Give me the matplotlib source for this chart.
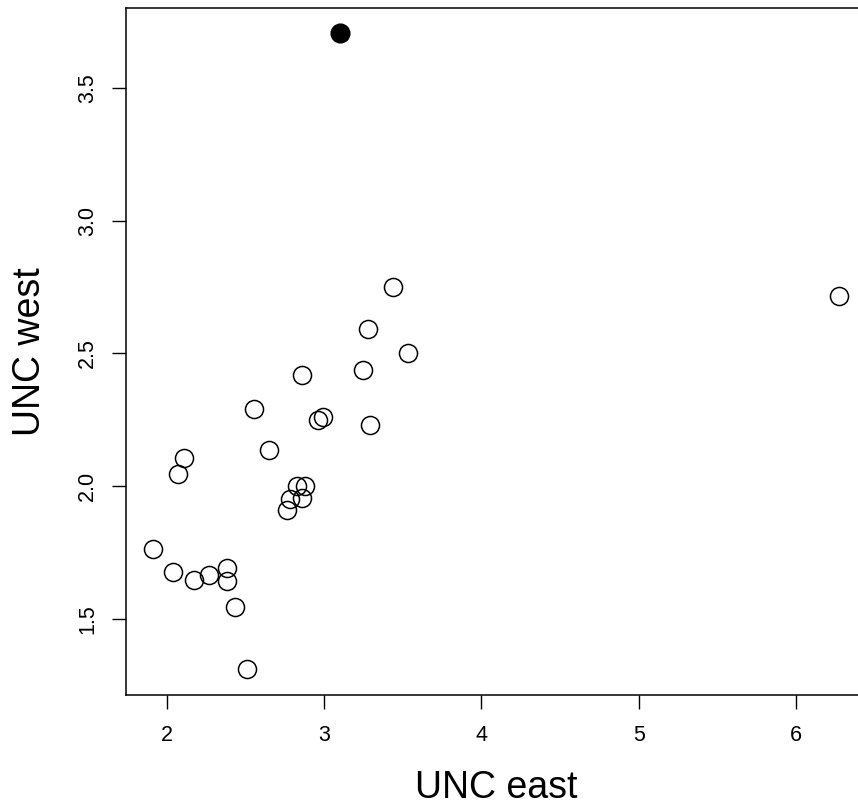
import matplotlib
matplotlib.use("Agg")
import matplotlib.pyplot as plt
import numpy as np

plt.rcParams['font.family'] = ['Liberation Sans', 'DejaVu Sans']

# open points
unc_east = [6.271, 3.439, 3.282, 3.535, 3.246, 2.862, 2.555, 2.959, 2.995, 3.290,
            2.650, 2.110, 2.074, 2.828, 2.878, 2.783, 2.862, 2.767, 1.915, 2.038,
            2.171, 2.266, 2.380, 2.380, 2.433, 2.511]
unc_west = [2.715, 2.752, 2.594, 2.501, 2.439, 2.417, 2.291, 2.249, 2.262, 2.230,
            2.135, 2.106, 2.046, 2.000, 2.001, 1.950, 1.954, 1.910, 1.765, 1.676,
            1.645, 1.666, 1.691, 1.644, 1.545, 1.310]
# highlighted point
hi_east = [3.103]
hi_west = [3.706]

x_ticks = [2, 3, 4, 5, 6]
y_ticks = [1.5, 2.0, 2.5, 3.0, 3.5]
y_tick_labels = ["1.5", "2.0", "2.5", "3.0", "3.5"]

fig = plt.figure(figsize=(8.58, 8.07), dpi=100)
ax = fig.add_axes([126/858, (807-694.7)/807, (866-126)/858, (694.7-8)/807])

ax.plot(unc_east, unc_west, 'o', ms=13, mfc='none', mec='black', mew=1.1, ls='none')
ax.plot(hi_east, hi_west, 'o', ms=13.5, mfc='black', mec='black', ls='none')

allx = np.array(unc_east + hi_east)
ally = np.array(unc_west + hi_west)
dx = (allx.max() - allx.min()) * 0.04
dy = (ally.max() - ally.min()) * 0.04
ax.set_xlim(allx.min() - dx, allx.max() + dx)
ax.set_ylim(ally.min() - dy, ally.max() + dy)

ax.set_xticks(x_ticks)
ax.set_xticklabels([str(t) for t in x_ticks])
ax.set_yticks(y_ticks)
ax.set_yticklabels(y_tick_labels, rotation=90, va='center')
ax.tick_params(direction='out', length=10, width=1, labelsize=15.5, colors='black')
ax.tick_params(axis='x', pad=12)
ax.tick_params(axis='y', pad=10)
for s in ax.spines.values():
    s.set_linewidth(1.1)
    s.set_color('black')

ax.set_xlabel("UNC east", fontsize=27, labelpad=17)
ax.set_ylabel("UNC west", fontsize=27, labelpad=21)

fig.savefig("out.png", dpi=100)
